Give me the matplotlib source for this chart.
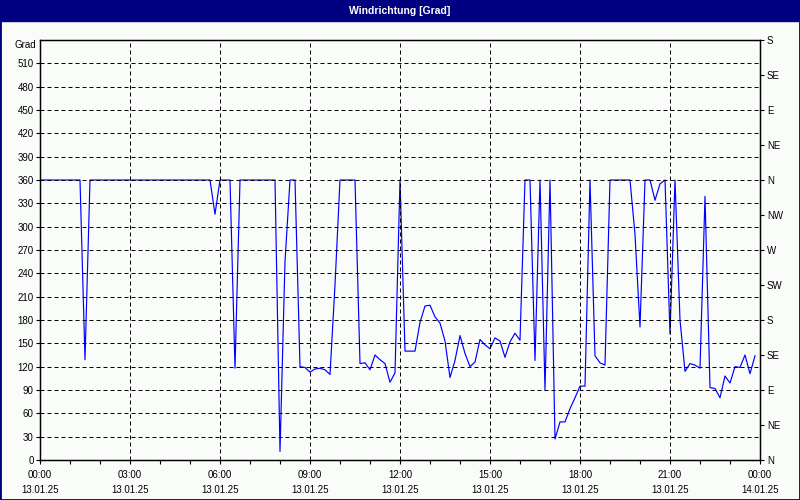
import numpy as np
import matplotlib.pyplot as plt
from matplotlib.patches import Rectangle

plt.rcParams['font.family'] = ['Liberation Sans', 'DejaVu Sans']

# Windrichtung in Grad, 10-Minuten-Werte ab 13.01.25 00:00
wind_dir = [
    360, 360, 360, 360, 360, 360, 360, 360, 360, 129, 360, 360,   # 00:00
    360, 360, 360, 360, 360, 360, 360, 360, 360, 360, 360, 360,   # 02:00
    360, 360, 360, 360, 360, 360, 360, 360, 360, 360, 360, 316,   # 04:00
    360, 360, 360, 118, 360, 360, 360, 360, 360, 360, 360, 360,   # 06:00
    11, 255, 360, 360, 120, 119, 113, 117, 118, 116, 110, 225,    # 08:00
    360, 360, 360, 360, 124, 125, 116, 135, 129, 124, 100, 112,   # 10:00
    360, 140, 140, 140, 177, 198, 199, 184, 176, 153, 106, 128,   # 12:00
    160, 137, 120, 126, 155, 148, 143, 157, 153, 132, 152, 163,   # 14:00
    154, 360, 360, 128, 360, 90, 360, 27, 49, 49, 66, 80,         # 16:00
    95, 95, 360, 134, 125, 122, 360, 360, 360, 360, 360, 290,     # 18:00
    171, 360, 360, 334, 355, 360, 162, 360, 180, 114, 124, 122,   # 20:00
    118, 339, 93, 92, 80, 108, 99, 120, 119, 135, 111, 134,       # 22:00
]
hours = np.arange(len(wind_dir)) / 6.0

x_ticks = [0, 3, 6, 9, 12, 15, 18, 21, 24]
x_labels = ["00:00\n13.01.25", "03:00\n13.01.25", "06:00\n13.01.25",
            "09:00\n13.01.25", "12:00\n13.01.25", "15:00\n13.01.25",
            "18:00\n13.01.25", "21:00\n13.01.25", "00:00\n14.01.25"]
y_ticks = list(range(0, 540, 30))
dir_ticks = list(range(0, 541, 45))
dir_labels = ["N", "NE", "E", "SE", "S", "SW", "W", "NW",
              "N", "NE", "E", "SE", "S"]

bg = '#fafcfa'
navy = '#000080'

fig = plt.figure(figsize=(8, 5), dpi=100, facecolor=bg)
ax = fig.add_axes([40 / 800, 40 / 500, 720 / 800, 420 / 500], facecolor=bg)

ax.plot(hours, wind_dir, color='#0000ff', lw=0.85)

ax.set_xlim(0, 24)
ax.set_ylim(0, 540)
ax.set_xticks(x_ticks)
ax.set_xticklabels(x_labels, fontsize=7, linespacing=1.65)
ax.set_xticks(range(25), minor=True)
ax.set_yticks(y_ticks)
ax.set_yticklabels([str(v) for v in y_ticks], fontsize=7)
ax.tick_params(axis='x', which='both', length=3, width=0.8, pad=4)
ax.tick_params(axis='y', length=3, width=0.8, pad=1.5)

for v in y_ticks[1:]:
    ax.axhline(v, color='black', lw=0.72, ls=(0, (4, 3)))
for h in x_ticks[1:-1]:
    ax.axvline(h, color='black', lw=0.72, ls=(0, (4, 3)))

for s in ax.spines.values():
    s.set_linewidth(1.0)
    s.set_color('black')

ax.text(-0.006, 1.0, "Grad", transform=ax.transAxes, ha='right', va='top',
        fontsize=7)

ax2 = ax.twinx()
ax2.set_ylim(0, 540)
ax2.set_yticks(dir_ticks)
ax2.set_yticklabels(dir_labels, fontsize=7)
ax2.tick_params(axis='y', length=3, width=0.8, pad=2)

# Titelleiste und Rahmen
fig.patches.append(Rectangle((0, 1 - 21 / 500), 1, 21 / 500,
                             transform=fig.transFigure, color=navy, zorder=0))
fig.text(0.5, 1 - 10.5 / 500, "Windrichtung [Grad]", color='white',
         fontsize=7.5, fontweight='bold', ha='center', va='center')
fig.patches.append(Rectangle((0, 0), 1, 1, transform=fig.transFigure,
                             fill=False, edgecolor=navy, lw=2))

fig.savefig("out.png", dpi=100, facecolor=bg)
